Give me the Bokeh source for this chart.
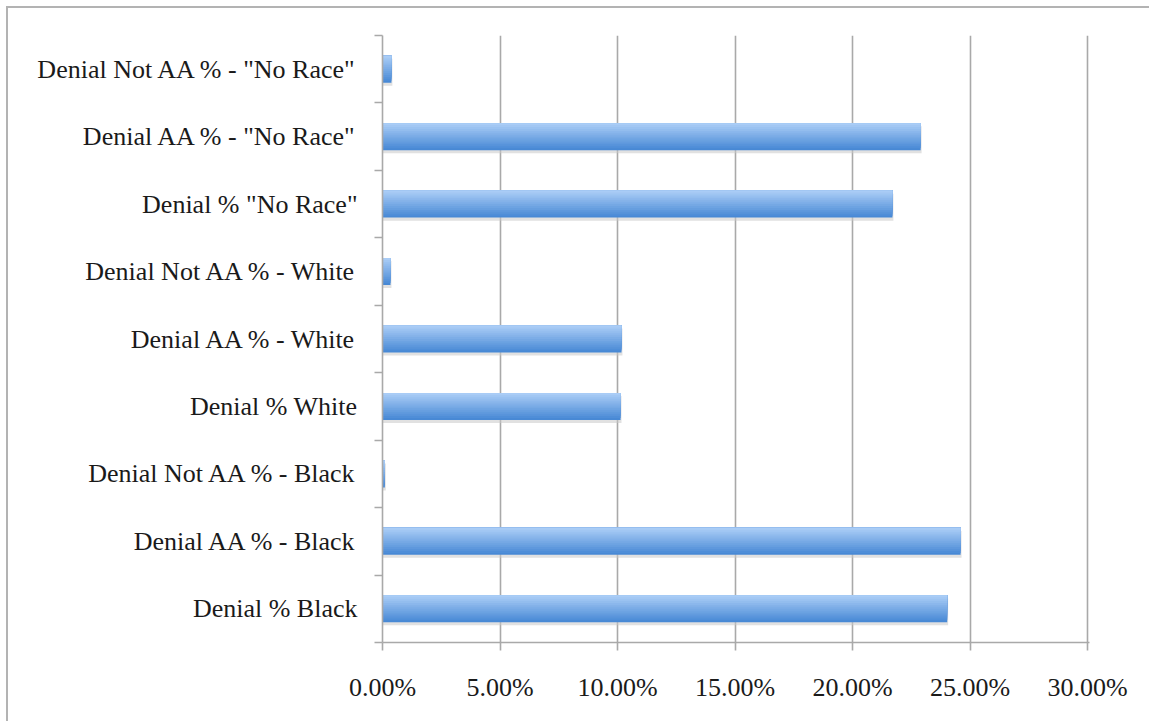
from bokeh.plotting import figure
from bokeh.models import Range1d, FixedTicker, NumeralTickFormatter
from bokeh.embed import file_html
from bokeh.resources import INLINE

# ---- data (bottom to top) ----
categories = [
    'Denial % Black',
    'Denial AA % - Black',
    'Denial Not AA % - Black',
    'Denial % White',
    'Denial AA % - White',
    'Denial Not AA % - White',
    'Denial % "No Race"',
    'Denial AA % - "No Race"',
    'Denial Not AA % - "No Race"',
]
values = [0.2403, 0.2460, 0.0010, 0.1013, 0.1017, 0.0034, 0.2170, 0.2290, 0.0038]
x_ticks = [0.0, 0.05, 0.10, 0.15, 0.20, 0.25, 0.30]

FONT = "Liberation Serif"
GRAY = "#a9a9a9"

n = len(categories)
centers = [i + 0.5 for i in range(n)]
boundaries = [float(i) for i in range(n + 1)]

# small pad so the last gridline is fully visible
x_end = x_ticks[-1] * 707.0 / 705.0

p = figure(width=1143, height=715, output_backend="svg", toolbar_location=None,
           x_range=Range1d(0, x_end), y_range=Range1d(0, n),
           min_border_left=374, min_border_right=62, min_border_top=27, min_border_bottom=81,
           margin=(6, 0, 0, 6),
           styles={"border-left": "2px solid #b3b3b3", "border-top": "2px solid #b3b3b3"})
p.outline_line_color = None
p.background_fill_color = "white"
p.border_fill_color = "white"

# bars: soft shadow, then vertical gradient built from nested bands
bar_h = 0.40
p.hbar(y=[c - 0.045 for c in centers], left=0, right=[v + 0.0004 for v in values], height=bar_h,
       fill_color="#c8c8c8", fill_alpha=0.55, line_color=None)

top_rgb = (0xa9, 0xcc, 0xf6)
bot_rgb = (0x48, 0x89, 0xd5)
strips = 14
sh = bar_h / strips
for k in range(strips):
    t = k / (strips - 1)
    rgb = tuple(int(round(bot_rgb[j] + (top_rgb[j] - bot_rgb[j]) * t)) for j in range(3))
    col = "#%02x%02x%02x" % rgb
    h = bar_h - k * sh
    p.hbar(y=[c + bar_h / 2 - h / 2 for c in centers], left=0, right=values, height=h,
           fill_color=col, line_color=None)

# grid
p.xgrid.ticker = FixedTicker(ticks=x_ticks)
p.xgrid.grid_line_color = GRAY
p.xgrid.grid_line_width = 1.6
p.ygrid.visible = False

# x axis
xa = p.xaxis[0]
xa.ticker = FixedTicker(ticks=x_ticks, minor_ticks=[])
xa.formatter = NumeralTickFormatter(format="0.00%")
xa.axis_line_color = GRAY
xa.axis_line_width = 1.6
xa.major_tick_line_color = GRAY
xa.major_tick_line_width = 1.6
xa.major_tick_in = 0
xa.major_tick_out = 8
xa.minor_tick_line_color = None
xa.major_label_text_font = FONT
xa.major_label_text_font_size = "26px"
xa.major_label_text_color = "#1a1a1a"
xa.major_label_standoff = 22

# y axis
ya = p.yaxis[0]
ya.ticker = FixedTicker(ticks=centers, minor_ticks=boundaries)
ya.major_label_overrides = {c: lab for c, lab in zip(centers, categories)}
ya.axis_line_color = GRAY
ya.axis_line_width = 1.6
ya.major_tick_line_color = None
ya.major_tick_in = 0
ya.major_tick_out = 0
ya.minor_tick_line_color = GRAY
ya.minor_tick_line_width = 1.6
ya.minor_tick_in = 0
ya.minor_tick_out = 8
ya.major_label_text_font = FONT
ya.major_label_text_font_size = "26px"
ya.major_label_text_color = "#1a1a1a"
ya.major_label_standoff = 17

open("out.html", "w").write(file_html(p, INLINE))
